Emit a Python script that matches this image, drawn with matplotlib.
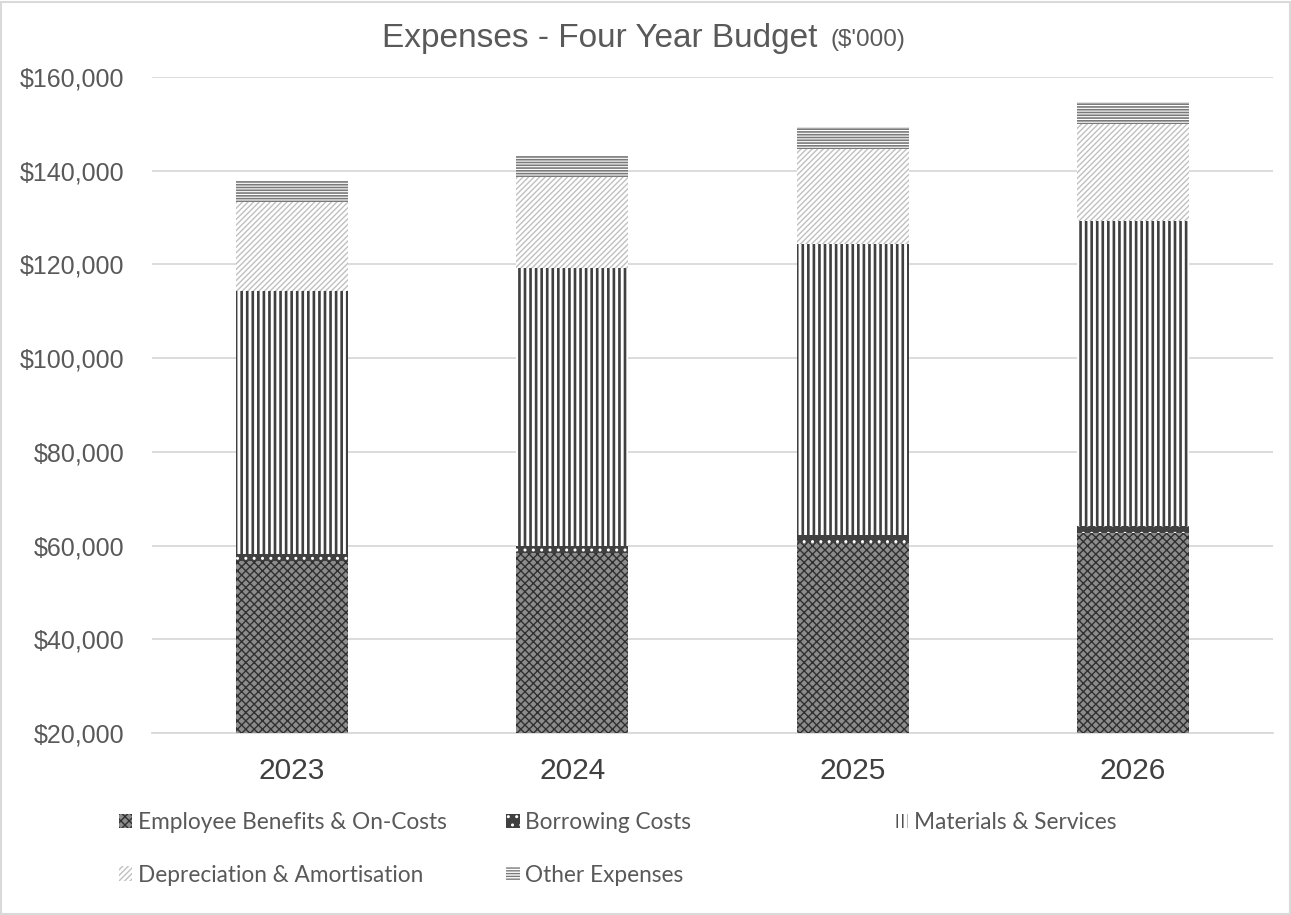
import matplotlib
matplotlib.use("Agg")
import matplotlib.pyplot as plt
from matplotlib.patches import Rectangle
from matplotlib.ticker import FuncFormatter, MultipleLocator
import numpy as np

years = ["2023", "2024", "2025", "2026"]
series_names = ["Employee Benefits & On-Costs", "Borrowing Costs", "Materials & Services",
                "Depreciation & Amortisation", "Other Expenses"]
employee = [56800, 58500, 60600, 62700]
borrowing = [1400, 1500, 1650, 1500]
materials = [56200, 59200, 62100, 65160]
depreciation = [19000, 19550, 20200, 20570]
other = [4400, 4450, 4700, 4750]

plt.rcParams['font.family'] = ['Liberation Sans', 'DejaVu Sans']

fig = plt.figure(figsize=(12.91, 9.15), dpi=100)
ax = fig.add_axes([0.1177, 0.1989, 0.8683, 0.7169])

x = np.arange(len(years))
w = 0.40
styles = [
    dict(facecolor='#8c8c8c', edgecolor='#303030', hatch='xxxx'),
    dict(facecolor='#404040', edgecolor='#ffffff', hatch='..'),
    dict(facecolor='#ffffff', edgecolor='#404040', hatch='|||'),
    dict(facecolor='#ffffff', edgecolor='#c0c0c0', hatch='//////'),
    dict(facecolor='#ffffff', edgecolor='#7a7a7a', hatch='------'),
]
hatch_lw = [1.0, 1.0, 1.9, 1.0, 1.2]
data = [employee, borrowing, materials, depreciation, other]
bottom = np.zeros(len(years))
conts = []
for vals, st, name, hl in zip(data, styles, series_names, hatch_lw):
    vals = np.array(vals, dtype=float)
    with plt.rc_context({'hatch.linewidth': hl}):
        c = ax.bar(x, vals, w, bottom=bottom, linewidth=0, label=name, zorder=3, **st)
    conts.append(c)
    bottom += vals

ax.set_xlim(-0.5, 3.5)
ax.set_ylim(20000, 160000)
ax.yaxis.set_major_locator(MultipleLocator(20000))
ax.yaxis.set_major_formatter(FuncFormatter(lambda v, p: "${:,.0f}".format(v)))
ax.grid(axis='y', color='#d9d9d9', linewidth=1.3, zorder=0)
ax.set_axisbelow(True)
for s in ['top', 'right', 'left']:
    ax.spines[s].set_visible(False)
ax.spines['bottom'].set_color('#d9d9d9')
ax.spines['bottom'].set_linewidth(1.3)
ax.set_xticks(x)
ax.set_xticklabels(years, fontsize=21.5, color='#404040')
ax.tick_params(axis='x', length=0, pad=17)
ax.tick_params(axis='y', length=0, pad=20, labelsize=18, labelcolor='#595959')

fig.text(0.633, 0.958, "Expenses - Four Year Budget", ha='right', va='center',
         fontsize=24, color='#595959')
fig.text(0.643, 0.956, "($'000)", ha='left', va='center', fontsize=17.5, color='#595959')

# Legend in three columns placed manually
cols = [([conts[0], conts[3]], [series_names[0], series_names[3]], 0.085),
        ([conts[1], conts[4]], [series_names[1], series_names[4]], 0.385),
        ([conts[2]], [series_names[2]], 0.686)]
for hs, ls, xpos in cols:
    leg = fig.legend(hs, ls, loc='upper left', bbox_to_anchor=(xpos, 0.1225),
                     frameon=False, ncol=1, prop={'family': 'Lato', 'size': 16.3},
                     handlelength=0.6, handleheight=0.6, handletextpad=0.25,
                     labelspacing=1.4, borderaxespad=0)
    for t in leg.get_texts():
        t.set_color('#595959')

fig.patches.append(Rectangle((0.001, 0.001), 0.998, 0.997, transform=fig.transFigure,
                             fill=False, edgecolor='#d9d9d9', linewidth=1.5))
fig.savefig("out.png", dpi=100)
